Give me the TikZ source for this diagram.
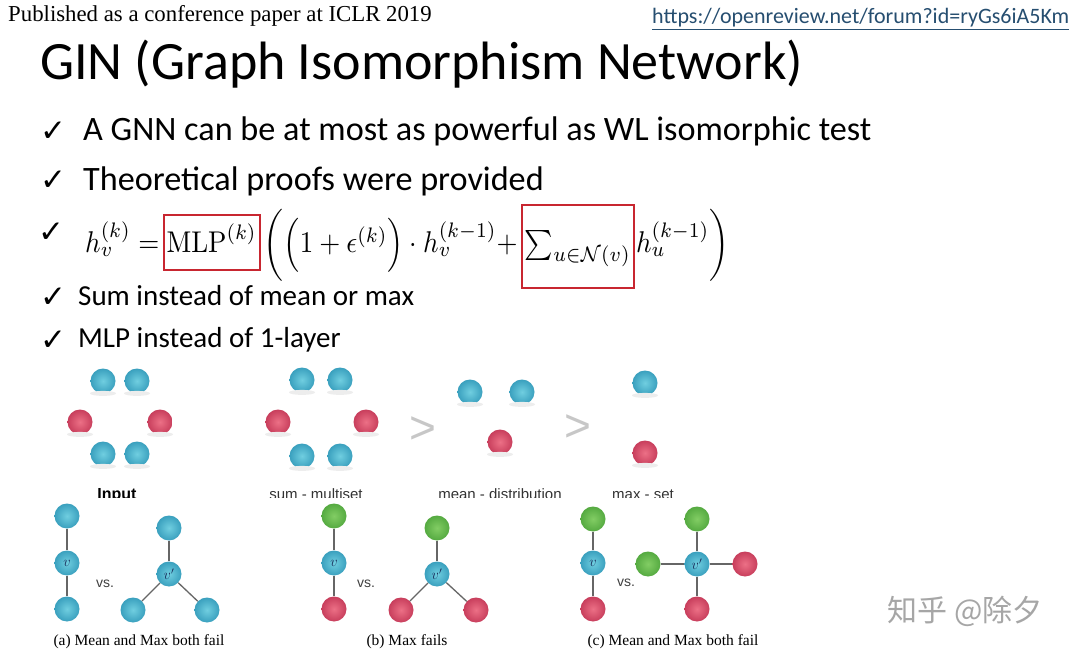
\documentclass[tikz,border=0pt]{standalone}
\usepackage[no-math]{fontspec}
\usepackage{graphicx}
\setmainfont{Carlito}
\newfontfamily\timesf{Liberation Serif}
\newfontfamily\dejavu{DejaVu Sans}
\newfontfamily\arialf{Liberation Sans}
\newfontfamily\cjk{Noto Sans CJK SC}
\usetikzlibrary{shapes.geometric}
\newcommand{\fsc}[1]{\scalebox{2.7}[3]{$#1$}}
\definecolor{ballblueL}{RGB}{112,206,224}
\definecolor{ballblueD}{RGB}{58,160,190}
\definecolor{ballredL}{RGB}{236,112,134}
\definecolor{ballredD}{RGB}{200,62,92}
\definecolor{ballgreenL}{RGB}{130,205,100}
\definecolor{ballgreenD}{RGB}{85,170,65}
\definecolor{boxred}{RGB}{200,38,48}
\definecolor{linkc}{RGB}{38,78,112}
\definecolor{navy}{RGB}{25,45,90}
\tikzset{
  txt/.style={anchor=base west, inner sep=0pt},
  chk/.style={anchor=base west, inner sep=0pt, font=\dejavu\fontsize{31}{32}\selectfont},
  bigtxt/.style={txt, font=\fontsize{34.2}{40}\selectfont},
  midtxt/.style={txt, font=\fontsize{29}{32}\selectfont},
  fml/.style={anchor=base west, inner sep=0pt, font=\fontsize{10}{12}\selectfont},
  fmlflat/.style={fml, text height=40pt, text depth=22pt},
  redbox/.style={draw=boxred, line width=2pt},
  ball/.style={circle, minimum size=25pt, inner sep=0pt, font=\fontsize{14}{14}\selectfont, text=navy},
  bb/.style={ball, inner color=ballblueL, outer color=ballblueD},
  rb/.style={ball, inner color=ballredL, outer color=ballredD},
  gb/.style={ball, inner color=ballgreenL, outer color=ballgreenD},
  shad/.style={label={[ellipse, fill=black!7, minimum width=26pt, minimum height=5pt, inner sep=0pt, label distance=-3pt]below:{}}},
  linkedge/.style={draw=black!60, line width=1.3pt},
  gtsign/.style={font=\arialf\fontsize{46}{46}\selectfont, text=black!22, inner sep=0pt},
  toplbl/.style={anchor=base, inner sep=0pt, font=\arialf\fontsize{15}{16}\selectfont, text=black!80},
  vslbl/.style={font=\arialf\fontsize{14}{14}\selectfont, text=black!75, inner sep=0pt},
  figcap/.style={anchor=base, inner sep=0pt, font=\timesf\fontsize{15.5}{17}\selectfont}
}
\begin{document}
\begin{tikzpicture}[x=1pt,y=-1pt]
\useasboundingbox (0,0) rectangle (1080,655);
\fill[white] (0,0) rectangle (1080,655);

% header
\node[txt, font=\timesf\fontsize{22.8}{24}\selectfont] (pub) at (8,22) {Published as a conference paper at ICLR 2019};
\node[txt, font=\fontsize{22}{24}\selectfont, text=linkc] (url) at (652,24) {\underline{https://openreview.net/forum?id=ryGs6iA5Km}};
\node[txt, font=\fontsize{54}{60}\selectfont] (title) at (40,80) {GIN (Graph Isomorphism Network)};

% bullets
\node[chk] (c1) at (40,142) {✓};
\node[bigtxt] (t1) at (83,141) {A GNN can be at most as powerful as WL isomorphic test};
\node[chk] (c2) at (40,191) {✓};
\node[bigtxt] (t2) at (83,191) {Theoretical proofs were provided};
\node[chk] (c3) at (38,243) {✓};
\node[chk] (c4) at (40,308) {✓};
\node[midtxt] (t4) at (78,306) {Sum instead of mean or max};
\node[chk] (c5) at (40,350) {✓};
\node[midtxt] (t5) at (78,348) {MLP instead of 1-layer};

% formula
\node[fml] (f1) at (85,253) {\fsc{h_v^{(k)}=}};
\node[fml, redbox, text height=35pt, text depth=14pt, inner xsep=3pt, inner ysep=3pt] (f2) at ([xshift=3pt]f1.base east) {\fsc{\mathrm{MLP}^{(k)}}};
\node[fmlflat] (f3) at ([xshift=3pt]f2.base east) {\fsc{\bigg(\Big(1+\epsilon^{(k)}\Big)\cdot h_v^{(k-1)}+}};
\node[fml, redbox, text height=46pt, text depth=33pt, inner xsep=3pt, inner ysep=2pt] (f4) at ([xshift=3pt]f3.base east) {\fsc{\sum_{u\in\mathcal{N}(v)}}};
\node[fmlflat] (f5) at ([xshift=1pt]f4.base east) {\fsc{h_u^{(k-1)}\bigg)}};

% top row of multisets
\node[bb, shad] (i1) at (103,381) {};
\node[bb, shad] (i2) at (137,381) {};
\node[rb, shad] (i3) at (80,422) {};
\node[rb, shad] (i4) at (160,422) {};
\node[bb, shad] (i5) at (103,454) {};
\node[bb, shad] (i6) at (137,454) {};

\node[bb, shad] (s1) at (302,380) {};
\node[bb, shad] (s2) at (340,380) {};
\node[rb, shad] (s3) at (278,422) {};
\node[rb, shad] (s4) at (366,422) {};
\node[bb, shad] (s5) at (302,456) {};
\node[bb, shad] (s6) at (340,456) {};

\node[gtsign] (g1) at (423,430) {>};

\node[bb, shad] (m1) at (470,392) {};
\node[bb, shad] (m2) at (522,392) {};
\node[rb, shad] (m3) at (500,442) {};

\node[gtsign] (g2) at (578,428) {>};

\node[bb, shad] (x1) at (645,383) {};
\node[rb, shad] (x2) at (645,453) {};

\begin{scope}
\clip (0,470) rectangle (1080,497.5);
\node[toplbl, font=\arialf\bfseries\fontsize{16}{16}\selectfont, text=black] (lin) at (117,499) {Input};
\node[toplbl] (lsum) at (316,499) {sum - multiset};
\node[toplbl] (lmean) at (500,499) {mean - distribution};
\node[toplbl] (lmax) at (643,499) {max - set};
\end{scope}

% bottom row (a)
\node[bb] (a1) at (67,516) {};
\node[bb] (av) at (67,563) {$v$};
\node[bb] (a2) at (67,609) {};
\node[vslbl] (avs) at (105,584) {vs.};
\node[bb] (a3) at (169,528) {};
\node[bb] (avp) at (169,574) {$v'$};
\node[bb] (a4) at (133,610) {};
\node[bb] (a5) at (207,610) {};
\draw[linkedge] (a1) -- (av) -- (a2);
\draw[linkedge] (a3) -- (avp);
\draw[linkedge] (avp) -- (a4);
\draw[linkedge] (avp) -- (a5);
\node[figcap] (capa) at (139,645) {(a) Mean and Max both fail};

% (b)
\node[gb] (b1) at (334,516) {};
\node[bb] (bv) at (334,563) {$v$};
\node[rb] (b2) at (334,609) {};
\node[vslbl] (bvs) at (366,584) {vs.};
\node[gb] (b3) at (437,528) {};
\node[bb] (bvp) at (437,574) {$v'$};
\node[rb] (b4) at (401,610) {};
\node[rb] (b5) at (476,610) {};
\draw[linkedge] (b1) -- (bv) -- (b2);
\draw[linkedge] (b3) -- (bvp);
\draw[linkedge] (bvp) -- (b4);
\draw[linkedge] (bvp) -- (b5);
\node[figcap] (capb) at (407,645) {(b) Max fails};

% (c)
\node[gb] (k1) at (593,519) {};
\node[bb] (kv) at (593,563) {$v$};
\node[rb] (k2) at (593,609) {};
\node[vslbl] (kvs) at (626,583) {vs.};
\node[gb] (k3) at (697,519) {};
\node[bb] (kvp) at (697,564) {$v'$};
\node[gb] (k4) at (648,564) {};
\node[rb] (k5) at (745,564) {};
\node[rb] (k6) at (697,609) {};
\draw[linkedge] (k1) -- (kv) -- (k2);
\draw[linkedge] (k3) -- (kvp) -- (k6);
\draw[linkedge] (k4) -- (kvp) -- (k5);
\node[figcap] (capc) at (673,645) {(c) Mean and Max both fail};

% watermark
\node[font=\cjk\fontsize{30}{30}\selectfont, text=black!35, inner sep=0pt] (wm) at (965,611) {知乎 @除夕};
\end{tikzpicture}
\end{document}
